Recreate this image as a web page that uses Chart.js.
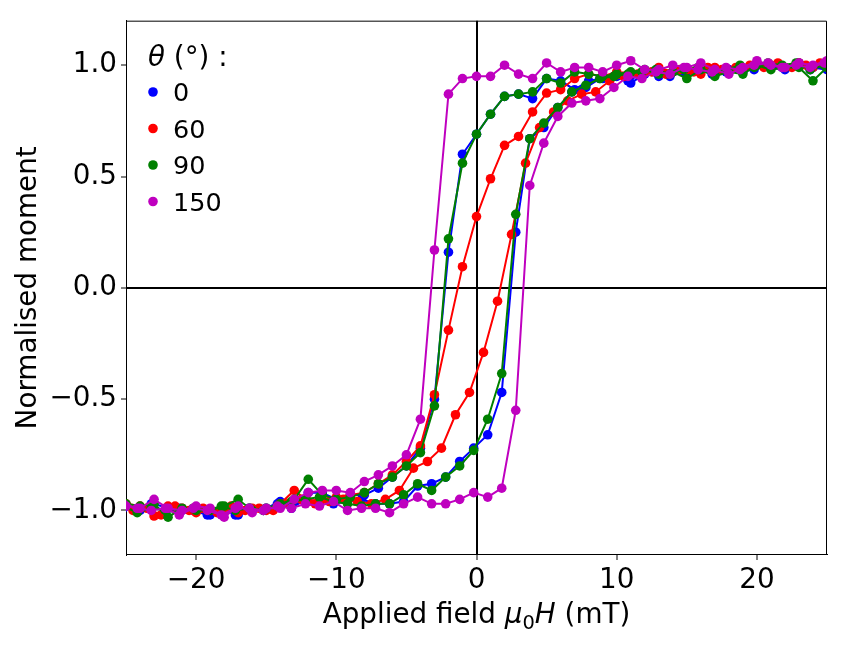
<!DOCTYPE html>
<html lang="en">
  <head>
    <meta charset="utf-8" />
    <title>Hysteresis loops</title>
    <style>
      * {
        margin: 0;
        padding: 0;
      }
      body {
        background: white;
      }
      .chartBox {
        width: 845px;
        height: 646px;
      }
    </style>
  </head>
  <body>
    <div class="chartBox">
      <canvas id="myChart"></canvas>
    </div>

    <script src="https://cdn.jsdelivr.net/npm/chart.js@4.4.0/dist/chart.umd.min.js"></script>

    <script>
      // data block: field sweeps (mT) and normalised moment
      const fieldDown = [25, 24, 23, 22, 21, 20, 19, 18, 17, 16, 15, 14, 13, 12, 11, 10, 9, 8, 7, 6, 5, 4, 3, 2, 1, 0,
        -1, -2, -3, -4, -5, -6, -7, -8, -9, -10, -11, -12, -13, -14, -15, -16, -17, -18, -19, -20, -21, -22, -23, -24, -25];
      const fieldUp = [-25.2, -24.2, -23.2, -22.2, -21.2, -20.2, -19.2, -18.2, -17.2, -16.2, -15.2, -14.2, -13.2,
        -12.2, -11.2, -10.2, -9.2, -8.2, -7.2, -6.2, -5.2, -4.2, -3.2, -2.2, -1.2, -0.2, 0.8, 1.8, 2.8, 3.8, 4.8,
        5.8, 6.8, 7.8, 8.8, 9.8, 10.8, 11.8, 12.8, 13.8, 14.8, 15.8, 16.8, 17.8, 18.8, 19.8, 20.8, 21.8, 22.8, 23.8, 24.8];
      const fieldUpRed = [-24.5, -23.5, -22.5, -21.5, -20.5, -19.5, -18.5, -17.5, -16.5, -15.5, -14.5, -13.5, -12.5,
        -11.5, -10.5, -9.5, -8.5, -7.5, -6.5, -5.5, -4.5, -3.5, -2.5, -1.5, -0.5, 0.5, 1.5, 2.5, 3.5, 4.5, 5.5,
        6.5, 7.5, 8.5, 9.5, 10.5, 11.5, 12.5, 13.5, 14.5, 15.5, 16.5, 17.5, 18.5, 19.5, 20.5, 21.5, 22.5, 23.5, 24.5];

      const blueDown = [0.98, 0.99, 1.01, 0.98, 0.99, 1.0, 0.97, 0.98, 0.96, 0.98, 0.96, 0.97, 0.95, 0.96, 0.92,
        0.95, 0.94, 0.93, 0.89, 0.93, 0.94, 0.85, 0.87, 0.86, 0.78, 0.69, 0.6, 0.16, -0.5, -0.72, -0.8, -0.85,
        -0.9, -0.93, -0.93, -0.95, -0.92, -0.92, -0.96, -0.96, -0.99, -1.0, -1.02, -1.0, -1.02, -0.99, -1.0,
        -0.99, -0.97, -1.0, -0.98];
      const blueUp = [-0.99, -1.0, -0.97, -1.01, -0.99, -1.0, -1.02, -0.99, -1.02, -0.99, -1.0, -0.97, -0.99,
        -0.95, -0.96, -0.97, -0.96, -0.95, -0.97, -0.97, -0.96, -0.89, -0.88, -0.85, -0.78, -0.72, -0.66, -0.47,
        0.25, 0.67, 0.72, 0.81, 0.88, 0.9, 0.94, 0.95, 0.93, 0.96, 0.97, 0.95, 0.97, 0.98, 0.96, 0.97, 0.99,
        0.98, 1.0, 0.99, 1.0, 0.98, 1.0];

      const redDown = [1.0, 0.99, 1.01, 0.99, 1.0, 1.01, 0.98, 0.97, 0.99, 0.96, 0.98, 0.97, 0.99, 0.97, 0.96,
        0.97, 0.95, 0.96, 0.94, 0.89, 0.875, 0.79, 0.68, 0.64, 0.49, 0.32, 0.095, -0.19, -0.48, -0.71, -0.78,
        -0.84, -0.88, -0.92, -0.93, -0.94, -0.95, -0.96, -0.91, -0.97, -1.0, -0.99, -1.01, -0.99, -1.0, -1.01,
        -0.99, -0.98, -1.025, -0.98, -0.97];
      const redUp = [-1.0, -0.99, -1.02, -0.98, -1.0, -0.99, -1.01, -0.98, -1.0, -0.99, -1.0, -0.97, -0.95,
        -0.97, -0.96, -0.95, -0.96, -0.97, -0.95, -0.91, -0.81, -0.78, -0.72, -0.57, -0.47, -0.29, -0.06, 0.24,
        0.56, 0.72, 0.79, 0.84, 0.87, 0.88, 0.93, 0.95, 0.96, 0.97, 0.96, 0.98, 0.97, 0.99, 0.98, 0.99, 1.0,
        0.99, 1.01, 0.99, 1.0, 1.01];

      const greenDown = [0.99, 0.93, 0.99, 0.99, 0.98, 1.0, 0.96, 0.97, 0.95, 0.98, 0.94, 0.97, 0.96, 0.98,
        0.97, 0.96, 0.95, 0.96, 0.97, 0.92, 0.94, 0.88, 0.87, 0.86, 0.78, 0.69, 0.56, 0.22, -0.53, -0.74, -0.8,
        -0.85, -0.88, -0.92, -0.94, -0.95, -0.93, -0.86, -0.95, -0.97, -0.99, -1.0, -0.95, -0.98, -1.0, -1.0,
        -0.99, -1.03, -0.97, -0.98, -0.97];
      const greenUp = [-0.98, -1.01, -0.99, -1.0, -1.01, -0.99, -1.0, -0.98, -1.0, -0.99, -1.0, -0.98, -0.96,
        -0.95, -0.94, -0.96, -0.97, -0.98, -0.97, -0.97, -0.93, -0.88, -0.91, -0.85, -0.8, -0.73, -0.59, -0.385,
        0.33, 0.67, 0.74, 0.81, 0.88, 0.91, 0.94, 0.95, 0.96, 0.97, 0.98, 0.96, 0.98, 0.99, 0.97, 0.98, 1.0,
        0.99, 1.01, 1.0, 1.01, 0.98, 1.0];

      const magentaDown = [1.02, 1.0, 1.01, 0.99, 1.0, 1.02, 0.99, 0.96, 0.98, 1.01, 0.99, 1.0, 0.98, 0.98,
        1.02, 1.0, 0.97, 0.99, 0.99, 0.97, 1.01, 0.94, 0.96, 1.0, 0.95, 0.95, 0.94, 0.87, 0.17, -0.59, -0.75,
        -0.8, -0.84, -0.87, -0.92, -0.91, -0.91, -0.92, -0.95, -0.99, -0.99, -1.01, -0.98, -1.03, -0.99, -0.98,
        -1.0, -0.99, -0.95, -0.99, -0.98];
      const magentaUp = [-0.97, -0.99, -1.0, -0.99, -1.02, -0.99, -1.0, -1.02, -0.99, -0.99, -1.0, -0.98, -0.99,
        -0.97, -0.98, -0.96, -1.0, -0.99, -0.99, -1.01, -0.97, -0.94, -0.97, -0.97, -0.95, -0.92, -0.94, -0.9,
        -0.55, 0.46, 0.65, 0.77, 0.83, 0.84, 0.85, 0.9, 0.95, 0.94, 0.97, 0.96, 0.99, 0.98, 0.97, 0.99, 0.98,
        1.0, 1.01, 0.99, 1.0, 0.99, 1.01];

      const angleLabels = ["0", "60", "90", "150"];
      const xTickValues = [-20, -10, 0, 10, 20];
      const yTickValues = [-1.0, -0.5, 0.0, 0.5, 1.0];

      const FONT = "DejaVu Sans";
      const FS = 27.8;
      const LEGEND_FS = 25.5;

      const toPoints = (xs, ys) => xs.map((x, i) => ({ x: x, y: ys[i] }));

      const loop = (label, color, xUp, down, up, order) => ({
        label: label,
        data: toPoints(fieldDown, down).concat(toPoints(xUp, up)),
        borderColor: color,
        backgroundColor: color,
        pointBackgroundColor: color,
        pointBorderWidth: 0,
        pointRadius: 4.8,
        borderWidth: 2,
        tension: 0,
        clip: 0,
        order: order,
      });

      const data = {
        datasets: [
          loop(angleLabels[0], "#0000ff", fieldUp, blueDown, blueUp, 4),
          loop(angleLabels[1], "#ff0000", fieldUpRed, redDown, redUp, 3),
          loop(angleLabels[2], "#008000", fieldUp, greenDown, greenUp, 2),
          loop(angleLabels[3], "#bf00bf", fieldUp, magentaDown, magentaUp, 1),
        ],
      };

      const minus = (s) => s.replace("-", "\u2212");

      // draws a line of text made of runs with their own fonts / offsets
      function drawRuns(ctx, runs, x, y, center) {
        const widths = runs.map((r) => {
          ctx.font = r.font;
          return ctx.measureText(r.text).width;
        });
        const total = widths.reduce((a, b) => a + b, 0);
        let cx = center ? x - total / 2 : x;
        runs.forEach((r, i) => {
          ctx.font = r.font;
          ctx.fillText(r.text, cx, y + (r.dy || 0));
          cx += widths[i];
        });
      }

      // frame, x title and legend plugin block
      const extras = {
        id: "extras",
        afterDraw(chart) {
          const { ctx, chartArea } = chart;
          const { left, right, top, bottom } = chartArea;
          const normal = `${FS}px "${FONT}"`;
          const italic = `italic ${FS}px "${FONT}"`;
          ctx.save();

          // top and right spines
          ctx.strokeStyle = "#000";
          ctx.lineWidth = 1;
          ctx.beginPath();
          ctx.moveTo(left, top + 0.5);
          ctx.lineTo(right - 0.5, top + 0.5);
          ctx.lineTo(right - 0.5, bottom);
          ctx.stroke();

          ctx.fillStyle = "#000";
          ctx.textAlign = "left";
          ctx.textBaseline = "alphabetic";

          // x axis title
          drawRuns(
            ctx,
            [
              { text: "Applied field ", font: normal },
              { text: "\u03bc", font: italic },
              { text: "0", font: `${FS * 0.7}px "${FONT}"`, dy: 6 },
              { text: "H", font: italic },
              { text: " (mT)", font: normal },
            ],
            (left + right) / 2,
            623,
            true
          );

          // legend title
          drawRuns(
            ctx,
            [
              { text: "\u03b8", font: italic },
              { text: " (\u00b0) :", font: normal },
            ],
            148,
            66,
            false
          );

          // legend entries
          chart.data.datasets.forEach((ds, i) => {
            const cy = 92 + i * 36.5;
            ctx.fillStyle = ds.borderColor;
            ctx.beginPath();
            ctx.arc(153, cy, 4.8, 0, Math.PI * 2);
            ctx.fill();
            ctx.fillStyle = "#000";
            ctx.font = `${LEGEND_FS}px "${FONT}"`;
            ctx.fillText(ds.label, 173, cy + 9.3);
          });

          ctx.restore();
        },
      };

      Chart.defaults.color = "#000";
      Chart.defaults.font.family = FONT;
      Chart.defaults.font.size = FS;

      const zeroLine = (c) => (c.tick && c.tick.value === 0 ? "#000" : "rgba(0,0,0,0)");

      // config block
      const config = {
        type: "line",
        data: data,
        options: {
          responsive: true,
          maintainAspectRatio: false,
          animation: false,
          layout: { padding: { left: 0, top: 18, right: 18, bottom: 0 } },
          plugins: {
            legend: { display: false },
            tooltip: { enabled: false },
          },
          scales: {
            x: {
              type: "linear",
              min: -25,
              max: 25,
              afterBuildTicks: (s) => {
                s.ticks = xTickValues.map((v) => ({ value: v }));
              },
              afterFit: (s) => {
                s.height = 91;
              },
              ticks: {
                padding: 4,
                maxRotation: 0,
                callback: (v) => minus(String(v)),
              },
              grid: {
                color: zeroLine,
                lineWidth: 2,
                tickColor: "#000",
                tickWidth: 1,
                tickLength: 5,
              },
              border: { display: true, color: "#000", width: 1 },
            },
            y: {
              type: "linear",
              min: -1.2,
              max: 1.2,
              afterBuildTicks: (s) => {
                s.ticks = yTickValues.map((v) => ({ value: v }));
              },
              afterFit: (s) => {
                s.width = 126;
              },
              ticks: {
                padding: 4,
                callback: (v) => minus(v.toFixed(1)),
              },
              grid: {
                color: zeroLine,
                lineWidth: 2,
                tickColor: "#000",
                tickWidth: 1,
                tickLength: 5,
              },
              border: { display: true, color: "#000", width: 1 },
              title: {
                display: true,
                text: "Normalised moment",
                padding: { top: 12, bottom: 0 },
              },
            },
          },
        },
        plugins: [extras],
      };

      // init render block
      const myChart = new Chart(document.getElementById("myChart"), config);
    </script>
  </body>
</html>
